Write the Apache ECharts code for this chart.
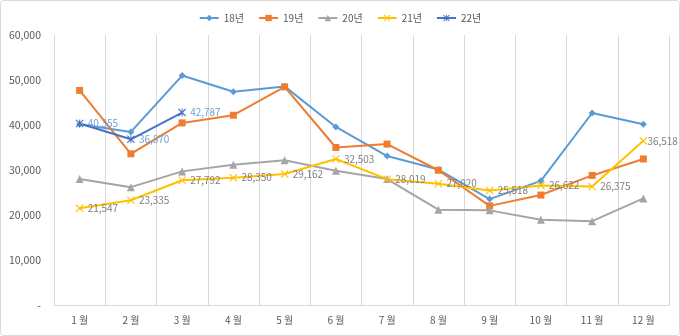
<!DOCTYPE html>
<html>
<head>
<meta charset="utf-8">
<script src="https://cdn.jsdelivr.net/npm/echarts@6/dist/echarts.min.js"></script>
<style>
html,body{margin:0;padding:0;background:#fff;}
#c{width:680px;height:336px;}
</style>
</head>
<body>
<div id="c"></div>
<script>
const months = ['1 월','2 월','3 월','4 월','5 월','6 월','7 월','8 월','9 월','10 월','11 월','12 월'];
const seriesNames = ['18년','19년','20년','21년','22년'];
const y18 = [40200, 38500, 51000, 47400, 48600, 39600, 33150, 30150, 23600, 27650, 42700, 40200];
const y19 = [47700, 33650, 40500, 42200, 48500, 35050, 35800, 30000, 22100, 24500, 28850, 32500];
const y20 = [28050, 26250, 29750, 31200, 32200, 29900, 28050, 21250, 21100, 19000, 18700, 23750];
const y21 = [21547, 23335, 27792, 28350, 29162, 32503, 28019, 27020, 25518, 26622, 26375, 36518];
const y22 = [40355, 36870, 42787, null, null, null, null, null, null, null, null, null];
const yTicks = [0, 10000, 20000, 30000, 40000, 50000, 60000];

const font = '"Noto Sans CJK KR", "Noto Sans", sans-serif';
const xPath = 'path://M0,1 L1,0 L5,4 L9,0 L10,1 L6,5 L10,9 L9,10 L5,6 L1,10 L0,9 L4,5 Z';
const starPath = 'path://M0,1 L1,0 L5,4 L9,0 L10,1 L6,5 L10,9 L9,10 L5,6 L1,10 L0,9 L4,5 Z M4.4,0 L5.6,0 L5.6,10 L4.4,10 Z';

function fmt(v){ return v.toLocaleString('en-US'); }

const chart = echarts.init(document.getElementById('c'), null, {renderer:'canvas'});
const mk = (name, data, color, symbol, size, label, labelColor) => ({
  name, type:'line',
  data: data.map((v, i) => (label && i === data.length - 1 && v != null) ? {value: v, label: {distance: 0}} : v),
  color,
  symbol, symbolSize:size, showSymbol:true,
  lineStyle:{width:2, color},
  itemStyle:{color},
  connectNulls:false,
  clip:false,
  animation:false,
  label: label ? {show:true, position:'right', distance:4, color:labelColor, fontSize:10, fontFamily:font,
    formatter: p => p.value == null ? '' : fmt(p.value)} : {show:false},
  emphasis:{disabled:true}
});

chart.setOption({
  backgroundColor:'#fff',
  animation:false,
  graphic:[{type:'rect', shape:{x:0.5,y:0.5,width:679,height:335, r:3}, style:{fill:'none', stroke:'#d9d9d9', lineWidth:1}, z:-1}],
  legend:{
    top:8, left:'center',
    itemWidth:19, itemHeight:8, itemGap:14,
    textStyle:{color:'#595959', fontSize:10, fontFamily:font},
    data: seriesNames
  },
  grid:{left:54, right:11, top:35, bottom:30.5, containLabel:false},
  xAxis:{
    type:'category', data:months, boundaryGap:true,
    axisLine:{show:true, lineStyle:{color:'#d9d9d9', width:1}},
    axisTick:{show:false},
    splitLine:{show:true, lineStyle:{color:'#d9d9d9', width:1}},
    axisLabel:{color:'#595959', fontSize:10, fontFamily:font, margin:10}
  },
  yAxis:{
    type:'value', min:0, max:60000, interval:10000,
    axisLine:{show:false}, axisTick:{show:false},
    splitLine:{show:false},
    axisLabel:{color:'#595959', fontSize:10.5, fontFamily:font, margin:13,
      formatter: v => v === 0 ? '-' : fmt(v)}
  },
  series:[
    mk(seriesNames[0], y18, '#5B9BD5', 'diamond', 7, false),
    mk(seriesNames[1], y19, '#ED7D31', 'rect', 7, false),
    mk(seriesNames[2], y20, '#A5A5A5', 'triangle', 8, false),
    mk(seriesNames[3], y21, '#FFC000', xPath, 8, true, '#7f7f7f'),
    mk(seriesNames[4], y22, '#4472C4', starPath, 8, true, '#6f9fd8')
  ]
});
</script>
</body>
</html>
